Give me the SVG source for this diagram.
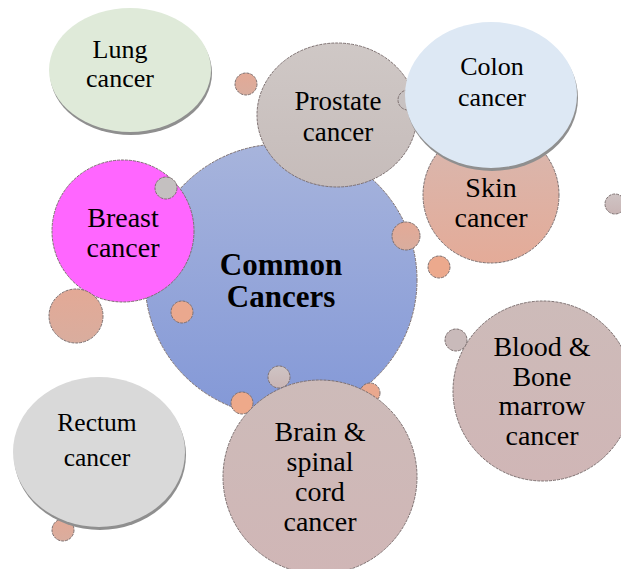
<svg xmlns="http://www.w3.org/2000/svg" width="621" height="569" viewBox="0 0 621 569" font-family="Liberation Serif, Times New Roman, serif">
<style>
text{font-size:27px;fill:#000;text-anchor:middle}
.s26{font-size:26px}
.s25{font-size:25.5px}
.s28{font-size:28px}
.b{font-weight:bold;font-size:31px}
.o{stroke:#7d7070;stroke-width:1;stroke-dasharray:3 1}
.sh{fill:#8f8f8f}
</style>
<defs>
<linearGradient id="gC" x1="0" y1="0" x2="0" y2="1"><stop offset="0" stop-color="#a7b4dc"/><stop offset="1" stop-color="#8398d7"/></linearGradient>
<linearGradient id="gP" x1="0" y1="0" x2="0" y2="1"><stop offset="0" stop-color="#cfc8c6"/><stop offset="1" stop-color="#c6bcba"/></linearGradient>
<linearGradient id="gS" x1="0" y1="0" x2="0" y2="1"><stop offset="0" stop-color="#d8b8b0"/><stop offset="1" stop-color="#e4ab98"/></linearGradient>
<linearGradient id="gB" x1="0" y1="0" x2="0" y2="1"><stop offset="0" stop-color="#cdbbb9"/><stop offset="1" stop-color="#d0b6b6"/></linearGradient>
<linearGradient id="gO" x1="0" y1="0" x2="0" y2="1"><stop offset="0" stop-color="#e3a996"/><stop offset="1" stop-color="#d9ad9e"/></linearGradient>
<linearGradient id="gG" x1="0" y1="0" x2="0" y2="1"><stop offset="0" stop-color="#cfc4c4"/><stop offset="1" stop-color="#c9b5b5"/></linearGradient>
</defs>

<g id="lung">
<ellipse class="sh" cx="131" cy="73" rx="81" ry="62"/>
<ellipse cx="130" cy="70" rx="81" ry="62" fill="#dfead9"/>
<text class="s26" x="120" y="58">Lung</text><text class="s26" x="120" y="87">cancer</text>
</g>

<g id="common">
<circle class="o" cx="281" cy="280" r="136" fill="url(#gC)"/>
</g>

<g id="dot1"><circle class="o" cx="246" cy="84" r="11" fill="url(#gO)"/></g>

<g id="prostate">
<ellipse class="o" cx="337" cy="115" rx="80" ry="72" fill="url(#gP)"/>
<circle class="o" cx="408" cy="100" r="10" fill="#c8c2c2"/>
<text x="338" y="110">Prostate</text><text x="338" y="141">cancer</text>
</g>

<g id="skin">
<circle class="o" cx="491" cy="195" r="68" fill="url(#gS)"/>
<text class="s28" x="491" y="197">Skin</text><text class="s28" x="491" y="227">cancer</text>
</g>

<g id="colon">
<ellipse class="sh" cx="492" cy="98" rx="86" ry="73"/>
<ellipse cx="491" cy="95" rx="86" ry="73" fill="#dde8f4"/>
<text class="s26" x="492" y="75">Colon</text><text class="s26" x="492" y="106">cancer</text>
</g>

<g id="dot2"><circle class="o" cx="615" cy="204" r="10" fill="url(#gG)"/></g>
<g id="dot3"><circle class="o" cx="406" cy="236" r="14" fill="url(#gO)"/></g>
<g id="dot4"><circle class="o" cx="439" cy="267" r="11" fill="#eca98d"/></g>

<g id="breast">
<circle class="o" cx="123" cy="231" r="71" fill="#ff66ff"/>
<circle class="o" cx="166" cy="188" r="11" fill="#c4c0c0"/>
<text class="s28" x="123" y="227">Breast</text><text class="s28" x="123" y="257">cancer</text>
</g>

<g id="dot5"><circle class="o" cx="76" cy="316" r="27" fill="url(#gO)"/></g>
<g id="dot6"><circle class="o" cx="182" cy="312" r="11" fill="#eaa88e"/></g>

<g id="commonText">
<text class="b" x="281" y="275">Common</text><text class="b" x="281" y="307">Cancers</text>
</g>

<g id="dot7"><circle class="o" cx="279" cy="377" r="11" fill="url(#gG)"/></g>
<g id="dot8"><circle class="o" cx="242" cy="403" r="11" fill="#eea98a"/></g>
<g id="dot9"><circle class="o" cx="370" cy="393" r="10" fill="#e9a88e"/></g>

<g id="brain">
<circle class="o" cx="320" cy="477" r="97" fill="url(#gB)"/>
<text class="s28" x="320" y="441">Brain &amp;</text><text class="s28" x="320" y="471">spinal</text><text class="s28" x="320" y="501">cord</text><text class="s28" x="320" y="531">cancer</text>
</g>

<g id="blood">
<circle class="o" cx="543" cy="391" r="90" fill="url(#gB)"/>
<circle class="o" cx="456" cy="340" r="11" fill="#c9baba"/>
<text class="s28" x="542" y="356">Blood &amp;</text><text class="s28" x="542" y="386">Bone</text><text class="s28" x="542" y="415">marrow</text><text class="s28" x="542" y="445">cancer</text>
</g>

<g id="rectum">
<circle class="o" cx="63" cy="530" r="11" fill="url(#gO)"/>
<ellipse class="sh" cx="100" cy="455" rx="86" ry="75"/>
<ellipse cx="99" cy="452" rx="86" ry="75" fill="#d9d9d9"/>
<text class="s25" x="97" y="431">Rectum</text><text class="s25" x="97" y="466">cancer</text>
</g>

<g id="connectors"></g>
</svg>
